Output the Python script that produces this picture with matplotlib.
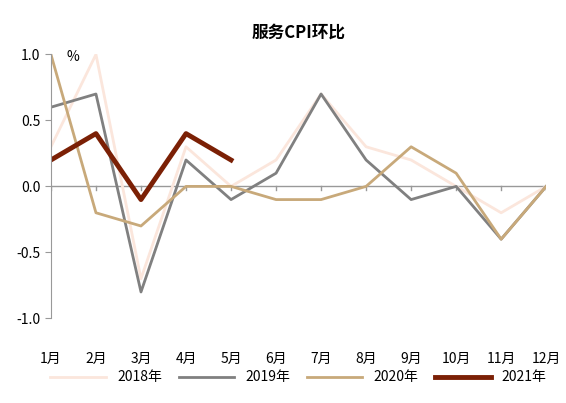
import matplotlib.pyplot as plt

plt.rcParams['font.family'] = ['Noto Sans CJK SC', 'DejaVu Sans']

months = [f'{i}月' for i in range(1, 13)]
s2018 = [0.3, 1.0, -0.7, 0.3, 0.0, 0.2, 0.7, 0.3, 0.2, 0.0, -0.2, 0.0]
s2019 = [0.6, 0.7, -0.8, 0.2, -0.1, 0.1, 0.7, 0.2, -0.1, 0.0, -0.4, 0.0]
s2020 = [1.0, -0.2, -0.3, 0.0, 0.0, -0.1, -0.1, 0.0, 0.3, 0.1, -0.4, 0.0]
s2021 = [0.2, 0.4, -0.1, 0.4, 0.2]

fig = plt.figure(figsize=(5.66, 4.03), dpi=100)
ax = fig.add_axes([0.09, 0.21, 0.875, 0.655])
x = range(12)
ax.plot(x, s2018, color='#fbe6dc', lw=2, label='2018年')
ax.plot(x, s2019, color='#808080', lw=2, label='2019年')
ax.plot(x, s2020, color='#c8a97a', lw=2, label='2020年')
ax.plot(range(len(s2021)), s2021, color='#7b2005', lw=3.5, label='2021年')

ax.set_ylim(-1.0, 1.0)
ax.set_xlim(0, 11)
ax.set_yticks([-1.0, -0.5, 0.0, 0.5, 1.0])
ax.set_yticklabels(['-1.0', '-0.5', '0.0', '0.5', '1.0'], fontsize=10)
ax.set_xticks(list(x))
ax.set_xticklabels(months, fontsize=10)
ax.tick_params(axis='x', length=0, pad=24)
ax.tick_params(axis='y', direction='out', length=4, color='#999999')
for s in ['top', 'right', 'bottom']:
    ax.spines[s].set_visible(False)
ax.spines['left'].set_color('#999999')
ax.axhline(0, color='#999999', lw=1, zorder=0)
for i in x:
    ax.plot([i, i], [0, -0.03], color='#999999', lw=1, zorder=0)
ax.text(0.35, 0.95, '%', fontsize=10)
ax.set_title('服务CPI环比', fontsize=12, fontweight='bold', pad=12)
ax.legend(loc='upper center', bbox_to_anchor=(0.5, -0.15), ncol=4, frameon=False,
          fontsize=10, handlelength=4.0, columnspacing=1.2)
fig.savefig('out.png')
